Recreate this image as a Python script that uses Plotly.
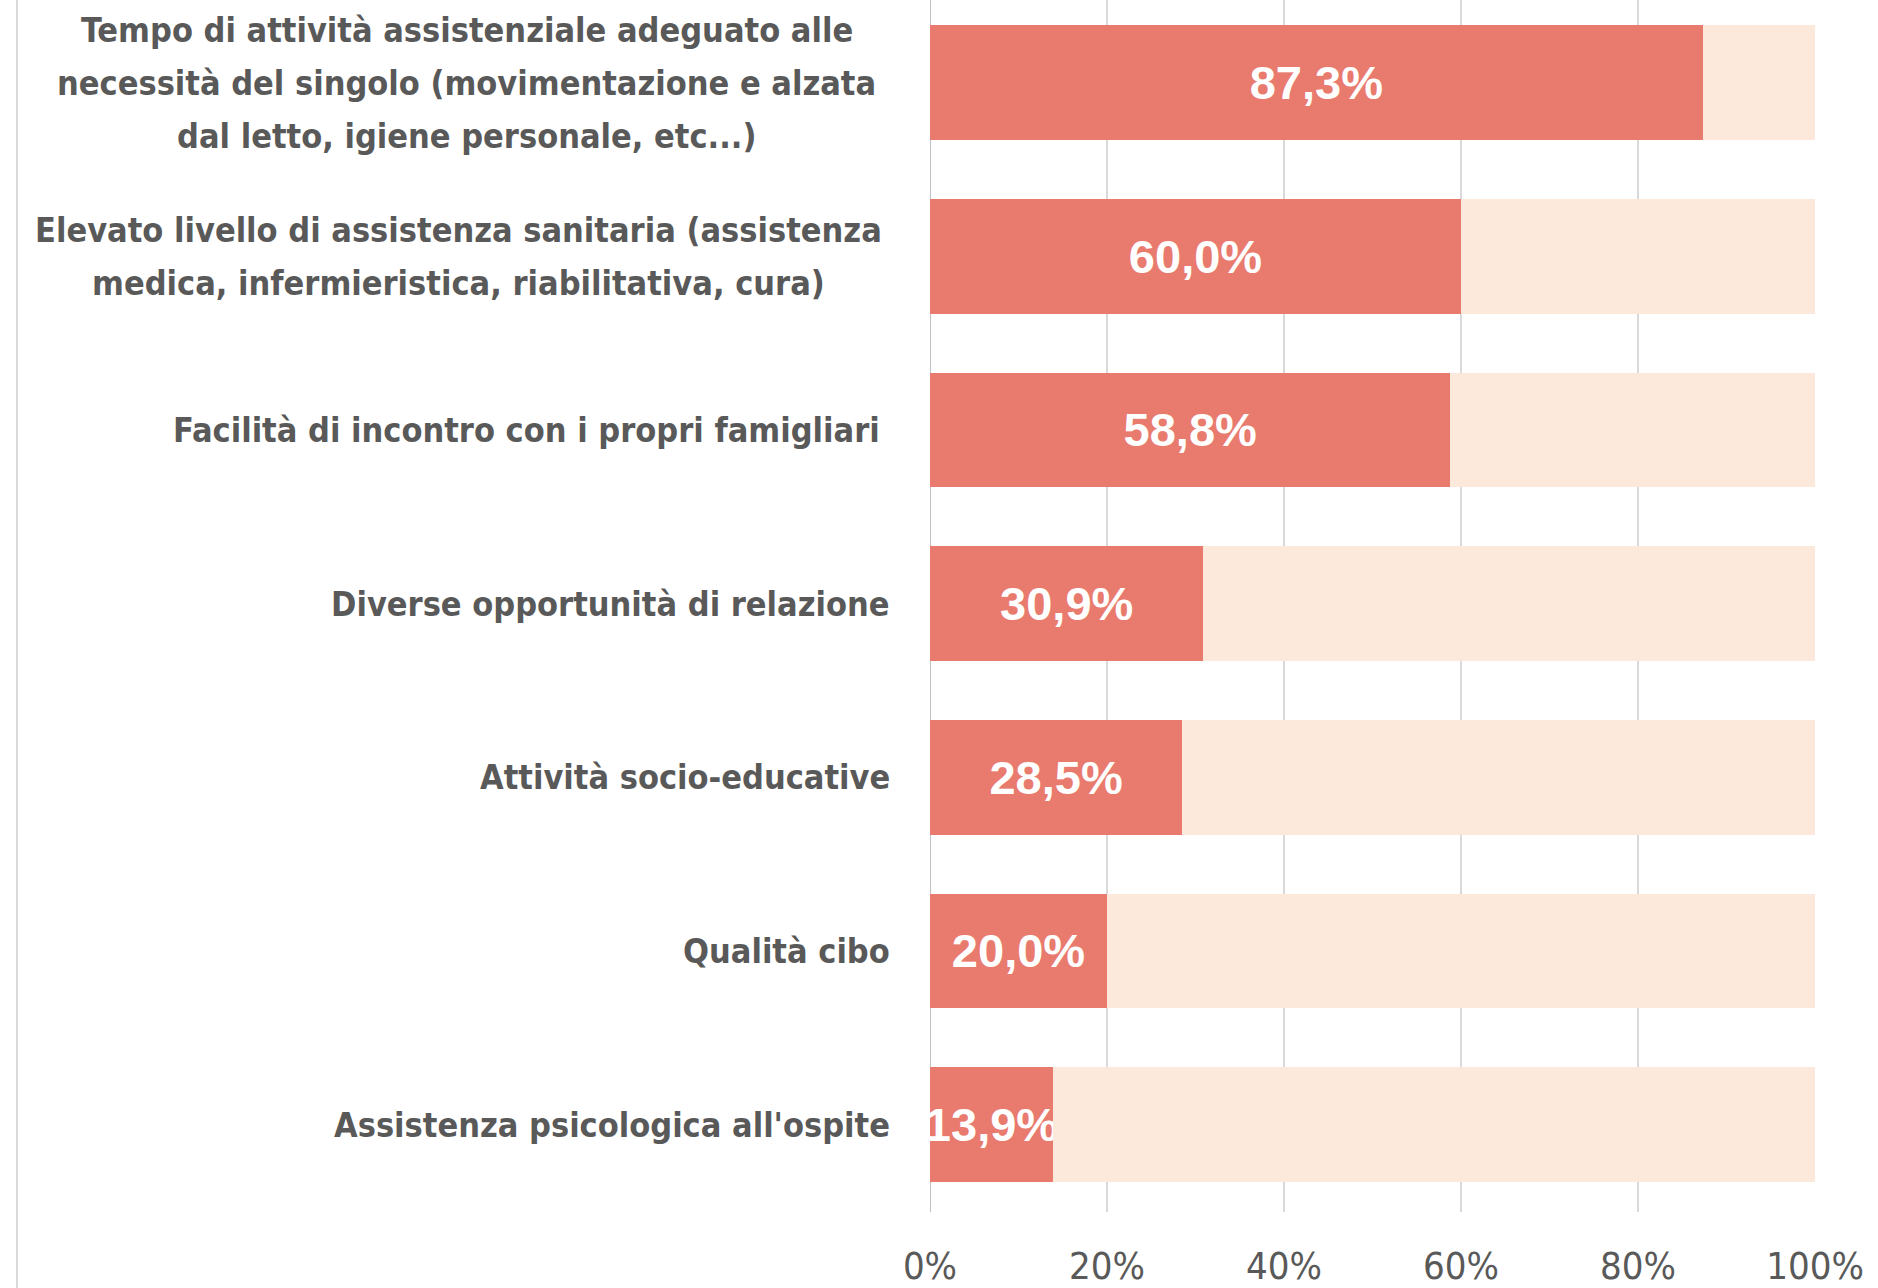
import plotly.graph_objects as go

categories = [
    "Tempo di attività assistenziale adeguato alle necessità del singolo (movimentazione e alzata dal letto, igiene personale, etc...)",
    "Elevato livello di assistenza sanitaria (assistenza medica, infermieristica, riabilitativa, cura)",
    "Facilità di incontro con i propri famigliari ",
    "Diverse opportunità di relazione",
    "Attività socio-educative",
    "Qualità cibo",
    "Assistenza psicologica all'ospite",
]
# wrapped lines of each category label, as shown in the chart
label_lines = [
    ["Tempo di attività assistenziale adeguato alle",
     "necessità del singolo (movimentazione e alzata",
     "dal letto, igiene personale, etc...)"],
    ["Elevato livello di assistenza sanitaria (assistenza",
     "medica, infermieristica, riabilitativa, cura)"],
    ["Facilità di incontro con i propri famigliari "],
    ["Diverse opportunità di relazione"],
    ["Attività socio-educative"],
    ["Qualità cibo"],
    ["Assistenza psicologica all'ospite"],
]
values = [87.3, 60.0, 58.8, 30.9, 28.5, 20.0, 13.9]
remainder = [100 - v for v in values]
value_labels = [f"{v:.1f}%".replace(".", ",") for v in values]
tick_vals = [0, 20, 40, 60, 80, 100]
tick_text = ["0%", "20%", "40%", "60%", "80%", "100%"]

DARK = "#E97A6E"
LIGHT = "#FCE9DB"
GREY = "#595959"
LABEL_FONT = "DejaVu Sans Condensed, Liberation Sans Narrow, sans-serif"

fig = go.Figure()
fig.add_trace(go.Bar(
    y=categories, x=values, orientation="h",
    marker=dict(color=DARK, line=dict(width=0)),
    text=value_labels, textposition="inside", insidetextanchor="middle",
    textfont=dict(family="Liberation Sans, Arial, sans-serif", size=47, color="white", weight="bold"),
    cliponaxis=False, hoverinfo="skip",
))
fig.add_trace(go.Bar(
    y=categories, x=remainder, orientation="h",
    marker=dict(color=LIGHT, line=dict(width=0)),
    hoverinfo="skip",
))

LINE_H = 53          # px between wrapped lines
PLOT_L, PLOT_W = 930, 885
block_centers = {0: 467, 1: 459}  # px, centre of wrapped label blocks

for i, (c, lines) in enumerate(zip(categories, label_lines)):
    n = len(lines)
    for j, ln in enumerate(lines):
        yshift = ((n - 1) / 2 - j) * LINE_H
        if n > 1:
            fig.add_annotation(
                x=(block_centers[i] - PLOT_L) / PLOT_W, xref="paper", y=c, yref="y",
                xanchor="center", yanchor="middle", yshift=yshift,
                text=f"<b>{ln}</b>", showarrow=False,
                font=dict(family=LABEL_FONT, size=34, color=GREY),
            )
        else:
            fig.add_annotation(
                x=0, xref="paper", y=c, yref="y",
                xanchor="right", yanchor="middle", xshift=-38, yshift=yshift,
                text=f"<b>{ln}</b>", showarrow=False,
                font=dict(family=LABEL_FONT, size=34, color=GREY),
            )

fig.add_shape(type="line", xref="paper", yref="paper",
              x0=(17 - PLOT_L) / PLOT_W, x1=(17 - PLOT_L) / PLOT_W, y0=-0.07, y1=1.01,
              line=dict(color="#D9D9D9", width=2))

fig.update_layout(
    barmode="stack",
    bargap=0.34,
    showlegend=False,
    width=1878, height=1288,
    margin=dict(l=PLOT_L, r=1878 - PLOT_L - PLOT_W, t=0, b=76),
    paper_bgcolor="white", plot_bgcolor="white",
    uniformtext=dict(mode="show", minsize=47),
    xaxis=dict(
        range=[0, 100], tickvals=tick_vals, ticktext=tick_text,
        showgrid=True, gridcolor="#D9D9D9", gridwidth=2,
        zeroline=False, showline=False, ticks="",
        tickfont=dict(family=LABEL_FONT, size=38, color=GREY),
        ticklabelstandoff=28,
    ),
    yaxis=dict(
        range=[6.503, -0.4756], showticklabels=False, showgrid=False,
        zeroline=False, showline=False, ticks="",
    ),
)
fig.add_vline(x=0, line=dict(color="#BFBFBF", width=2), layer="below")

fig.write_html("out.html", config={"displayModeBar": False},
               post_script="document.body.style.margin='0';document.body.style.overflow='hidden';")
